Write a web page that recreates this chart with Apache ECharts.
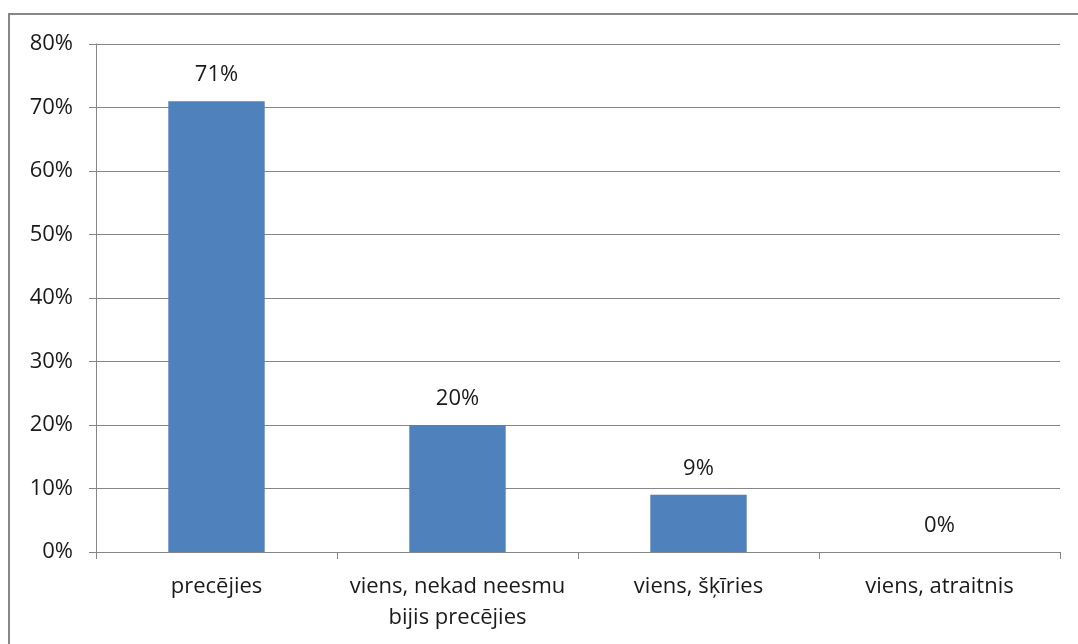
<!DOCTYPE html>
<html><head><meta charset="utf-8">
<script src="https://cdn.jsdelivr.net/npm/echarts@6/dist/echarts.min.js"></script>
<style>html,body{margin:0;padding:0;background:#fff}#c{width:1078px;height:644px}</style>
</head><body><div id="c"></div>
<script>
const categories = ["precējies", "viens, nekad neesmu\nbijis precējies", "viens, šķīries", "viens, atraitnis"];
const values = [71, 20, 9, 0];
const yTicks = [0, 10, 20, 30, 40, 50, 60, 70, 80];

const font = "'Open Sans', 'Noto Sans', sans-serif";
const chart = echarts.init(document.getElementById('c'));
chart.setOption({
  animation: false,
  backgroundColor: '#fff',
  graphic: [{
    type: 'rect', shape: {x: 9, y: 14, width: 1100, height: 700},
    style: {fill: 'none', stroke: '#878787', lineWidth: 2}, silent: true
  }],
  grid: {left: 96, right: 18, top: 44, bottom: 92, containLabel: false},
  xAxis: {
    type: 'category', data: categories,
    axisLine: {lineStyle: {color: '#868686'}},
    axisTick: {show: true, alignWithLabel: false, length: 7, lineStyle: {color: '#868686'}},
    axisLabel: {color: '#1a1a1a', fontFamily: font, fontSize: 22, margin: 19, lineHeight: 31, interval: 0}
  },
  yAxis: {
    type: 'value', min: yTicks[0], max: yTicks[yTicks.length - 1], interval: 10,
    axisLine: {show: true, lineStyle: {color: '#868686'}},
    axisTick: {show: true, length: 7, lineStyle: {color: '#868686'}},
    splitLine: {lineStyle: {color: '#868686'}},
    axisLabel: {color: '#1a1a1a', fontFamily: font, fontSize: 22, margin: 23, formatter: v => v + '%'}
  },
  series: [{
    type: 'bar', data: values, barWidth: '40%',
    itemStyle: {color: '#4F81BD'},
    label: {show: true, position: 'top', distance: 15, color: '#1a1a1a', fontFamily: font, fontSize: 22, formatter: p => p.value + '%'}
  }]
});
</script></body></html>
